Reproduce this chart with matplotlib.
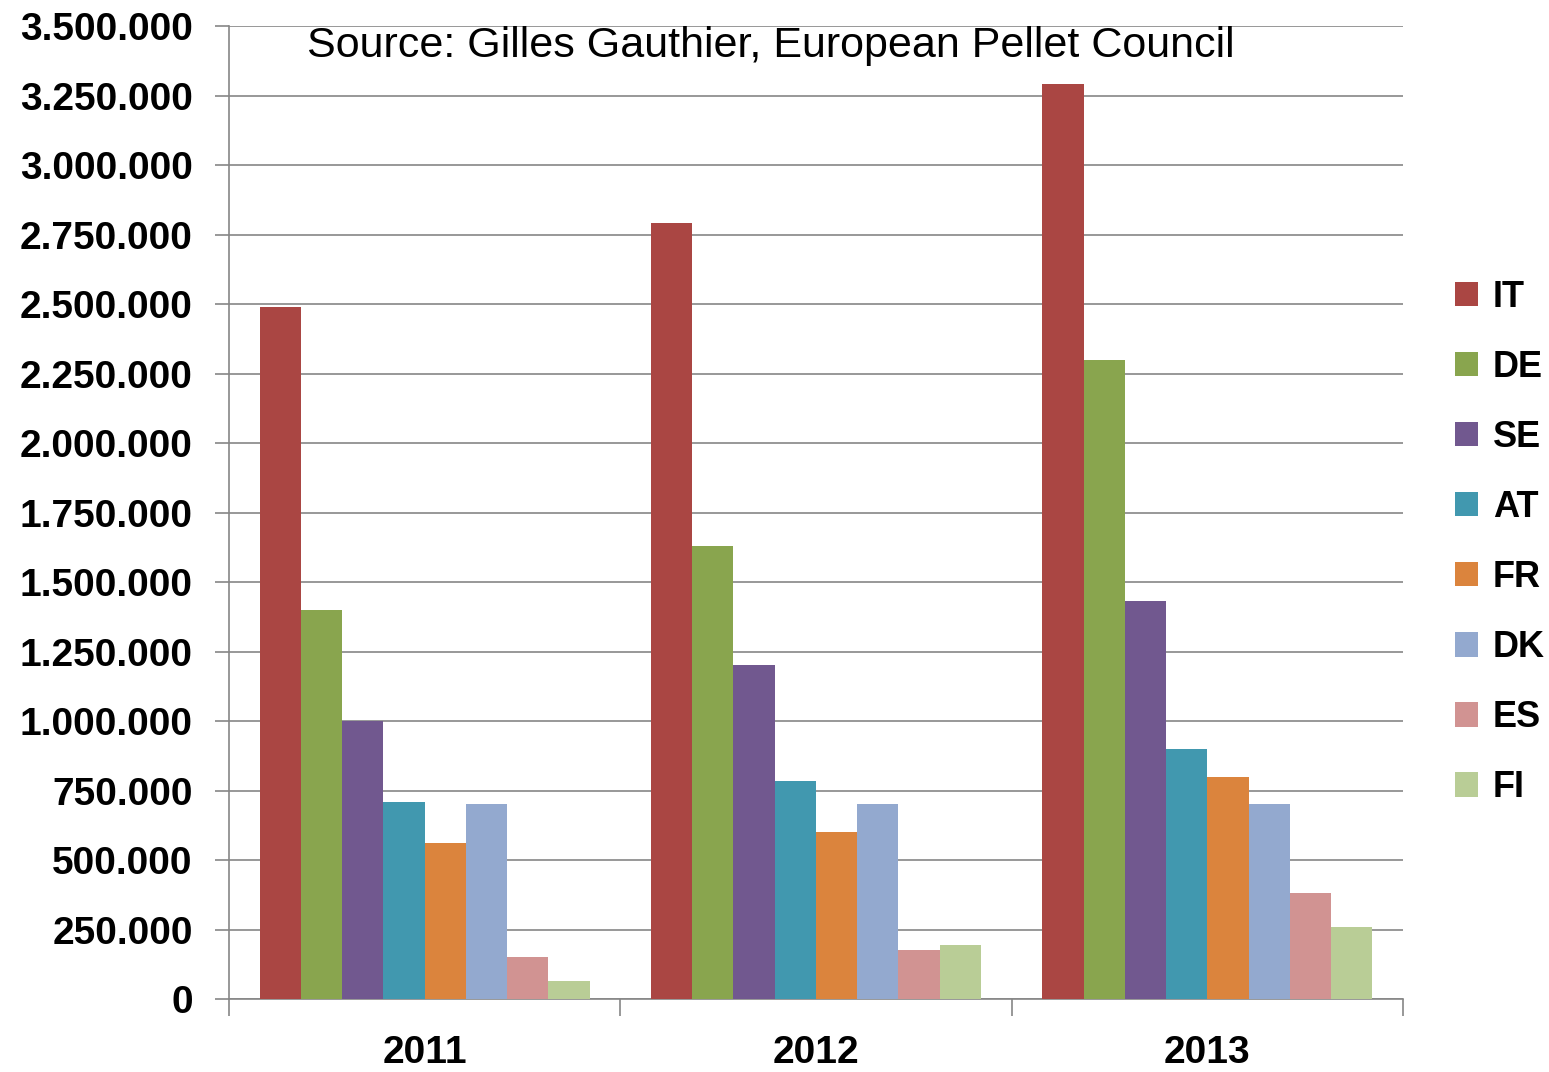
import matplotlib
matplotlib.use("Agg")
import matplotlib.pyplot as plt
import numpy as np
from matplotlib.ticker import FuncFormatter, FixedLocator

plt.rcParams["font.family"] = ["Liberation Sans", "DejaVu Sans"]

years = ["2011", "2012", "2013"]
countries = ["IT", "DE", "SE", "AT", "FR", "DK", "ES", "FI"]
colors = ["#AA4643", "#89A54E", "#71588F", "#4198AF",
          "#DB843D", "#93A9CF", "#D19392", "#B9CD96"]

it = [2490000, 2790000, 3290000]
de = [1400000, 1630000, 2300000]
se = [1000000, 1200000, 1430000]
at = [710000, 785000, 900000]
fr = [560000, 600000, 800000]
dk = [700000, 700000, 700000]
es = [150000, 175000, 380000]
fi = [65000, 195000, 260000]
series = [it, de, se, at, fr, dk, es, fi]

fig = plt.figure(figsize=(15.49, 10.72), dpi=100)
ax = fig.add_axes([0.1478, 0.0681, 0.7579, 0.9076])

x = np.arange(len(years))
bw = 0.1054
for i, (vals, c, name) in enumerate(zip(series, colors, countries)):
    ax.bar(x + (i - 3.5) * bw, vals, width=bw, color=c, label=name,
           edgecolor="none", zorder=3)

ax.set_xlim(-0.5, 2.5)
ax.set_ylim(0, 3500000)
ax.set_yticks(np.arange(0, 3500001, 250000))
ax.yaxis.set_major_formatter(FuncFormatter(lambda v, p: f"{int(v):,}".replace(",", ".")))
ax.grid(axis="y", color="#868686", lw=1.2, zorder=0)

ax.set_xticks(x)
ax.set_xticklabels(years)
ax.xaxis.set_minor_locator(FixedLocator([-0.5, 0.5, 1.5, 2.5]))
ax.tick_params(axis="x", which="major", length=0, pad=26)
ax.tick_params(axis="x", which="minor", length=12, color="#868686", width=1.2)
ax.tick_params(axis="y", length=10, color="#868686", width=1.2, pad=16)
for lab in ax.get_yticklabels():
    lab.set_fontsize(28)
    lab.set_fontweight("bold")
for lab in ax.get_xticklabels():
    lab.set_fontsize(28)
    lab.set_fontweight("bold")

for s in ["top", "right"]:
    ax.spines[s].set_visible(False)
for s in ["left", "bottom"]:
    ax.spines[s].set_color("#868686")
    ax.spines[s].set_linewidth(1.2)

ax.text(0.0664, 0.98, "Source: Gilles Gauthier, European Pellet Council",
        transform=ax.transAxes, ha="left", va="center", fontsize=31)

leg = fig.legend(loc="upper left", bbox_to_anchor=(1455 / 1549, 1 - 280 / 1072),
                 frameon=False, borderpad=0, borderaxespad=0,
                 prop={"size": 26, "weight": "bold"}, handlelength=0.65,
                 handleheight=0.65, handletextpad=0.4, labelspacing=0.97)

fig.savefig("out.png", dpi=100)
